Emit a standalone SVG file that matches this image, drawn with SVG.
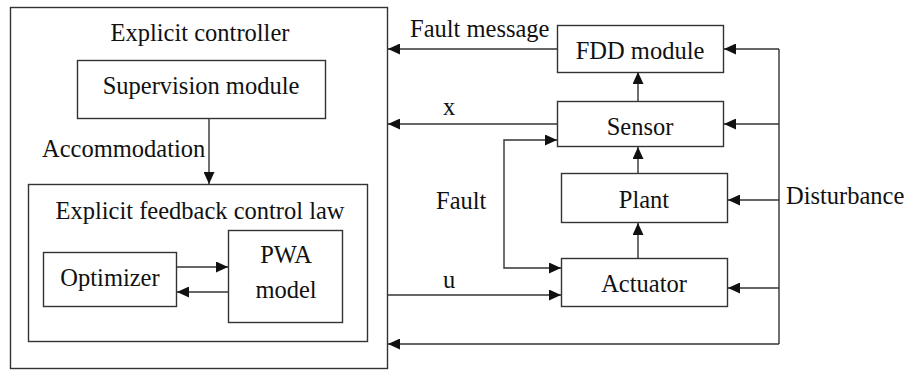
<svg xmlns="http://www.w3.org/2000/svg" width="924" height="371" viewBox="0 0 924 371">
  <style>
    .box { fill: #fff; stroke: #333; stroke-width: 1.4; }
    .wire { fill: none; stroke: #333; stroke-width: 1.4; }
    .arr { marker-end: url(#head); }
    text { font-size: 24.5px; fill: #111; font-family: "Liberation Serif", "Times New Roman", serif; }
    .c { text-anchor: middle; }
  </style>
  <defs>
    <marker id="head" viewBox="0 0 12 11" refX="12" refY="5.5" markerWidth="12" markerHeight="11" markerUnits="userSpaceOnUse" orient="auto">
      <path d="M0,0 L12,5.5 L0,11 Z" fill="#111"/>
    </marker>
  </defs>
  <rect width="924" height="371" fill="#fff"/>

  <!-- Controller side -->
  <g id="explicit-controller">
    <rect class="box" x="10.5" y="7.5" width="377" height="361"/>
    <text class="c" x="200" y="41">Explicit controller</text>
  </g>
  <g id="supervision-module">
    <rect class="box" x="77.5" y="60.5" width="248" height="58"/>
    <text class="c" x="201" y="94">Supervision module</text>
  </g>
  <g id="feedback-law">
    <rect class="box" x="28.5" y="184.5" width="339" height="157"/>
    <text class="c" x="200" y="219">Explicit feedback control law</text>
  </g>
  <g id="optimizer">
    <rect class="box" x="43.5" y="252.5" width="133" height="54"/>
    <text class="c" x="110" y="286">Optimizer</text>
  </g>
  <g id="pwa-model">
    <rect class="box" x="228.5" y="230.5" width="114" height="92"/>
    <text class="c" x="286" y="263">PWA</text>
    <text class="c" x="286" y="298">model</text>
  </g>

  <!-- Plant side -->
  <g id="fdd-module">
    <rect class="box" x="557.5" y="25.5" width="166" height="47"/>
    <text class="c" x="640" y="59">FDD module</text>
  </g>
  <g id="sensor">
    <rect class="box" x="557.5" y="101.5" width="166" height="45"/>
    <text class="c" x="640" y="135">Sensor</text>
  </g>
  <g id="plant">
    <rect class="box" x="561.5" y="173.5" width="166" height="49"/>
    <text class="c" x="644" y="208">Plant</text>
  </g>
  <g id="actuator">
    <rect class="box" x="561.5" y="258.5" width="166" height="48"/>
    <text class="c" x="644" y="292">Actuator</text>
  </g>

  <!-- Signal paths -->
  <g id="connectors">
    <path class="wire arr" d="M209,119 V184"/>
    <path class="wire arr" d="M177,267 H228"/>
    <path class="wire arr" d="M228,292 H177"/>
    <path class="wire arr" d="M557,49 H388"/>
    <path class="wire arr" d="M557,124 H388"/>
    <path class="wire arr" d="M388,295 H561"/>
    <path class="wire arr" d="M638,101 V72"/>
    <path class="wire arr" d="M638,173 V147"/>
    <path class="wire arr" d="M638,258 V223"/>
    <path class="wire arr" d="M504,204 V140 H557"/>
    <path class="wire arr" d="M504,204 V268 H561"/>
    <path class="wire" d="M779,49 V344"/>
    <path class="wire arr" d="M779,49 H724"/>
    <path class="wire arr" d="M779,124 H724"/>
    <path class="wire arr" d="M779,200 H728"/>
    <path class="wire arr" d="M779,288 H728"/>
    <path class="wire arr" d="M779,344 H388"/>
  </g>

  <!-- Signal labels -->
  <g id="labels">
    <text x="42" y="157">Accommodation</text>
    <text x="410" y="37">Fault message</text>
    <text x="443" y="115">x</text>
    <text x="436" y="209">Fault</text>
    <text x="443" y="288">u</text>
    <text x="786" y="204">Disturbance</text>
  </g>
</svg>
